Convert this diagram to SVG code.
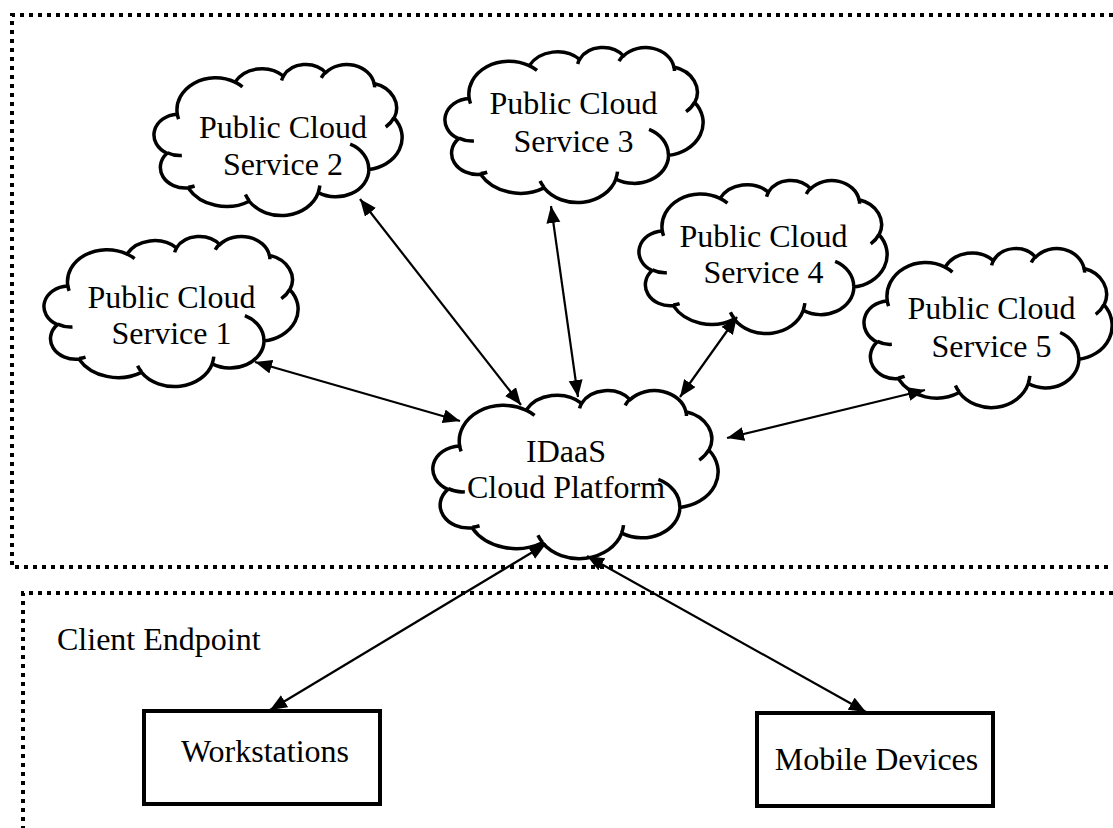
<svg xmlns="http://www.w3.org/2000/svg" xmlns:xlink="http://www.w3.org/1999/xlink" width="1113" height="828" viewBox="0 0 1113 828">
  <style>
    .lbl { font-family: "Liberation Serif", "Times New Roman", serif; font-size: 32px; fill: #000; }
    .mid { text-anchor: middle; }
    .cloud-outline { fill: #fff; stroke: #000; stroke-width: 3.5; vector-effect: non-scaling-stroke; stroke-linejoin: round; }
    .cloud-inner { fill: none; stroke: #000; stroke-width: 3.5; vector-effect: non-scaling-stroke; }
    .box { fill: #fff; stroke: #000; stroke-width: 4; }
    .zone { fill: none; stroke: #000; stroke-width: 4; stroke-dasharray: 4 5; }
    .conn { fill: none; stroke: #000; stroke-width: 2.2; marker-start: url(#ah); marker-end: url(#ah); }
  </style>
  <defs>
    <marker id="ah" markerUnits="userSpaceOnUse" markerWidth="18" markerHeight="15" refX="17" refY="7" orient="auto-start-reverse">
      <path d="M0,0 L17,7 L0,14 Z" fill="#000"/>
    </marker>
    <g id="cloud">
      <path class="cloud-outline" d="M 39.00 143.70 A 67.53 91.90 0 0 1 140.05 52.02 A 53.33 72.67 0 0 1 224.57 34.33 A 43.65 59.45 0 0 1 298.34 24.83 A 48.57 65.95 0 0 1 383.19 55.79 A 53.33 72.73 0 0 1 418.19 154.63 A 67.75 92.20 0 0 1 374.06 302.07 A 57.85 78.67 0 0 1 285.57 368.17 A 67.52 92.15 0 0 1 164.81 392.67 A 77.20 105.43 0 0 1 58.05 354.70 A 43.60 59.18 0 0 1 21.15 255.46 A 43.45 59.45 0 0 1 39.00 143.70 Z"/>
      <path class="cloud-inner" d="M 46.93 261.77 A 43.45 59.45 0 0 1 21.59 253.79 M 69.28 348.99 A 43.60 59.18 0 0 1 58.19 352.81 M 164.78 390.90 A 67.52 92.15 0 0 1 158.11 373.50 M 288.27 347.51 A 67.52 92.15 0 0 1 285.60 366.61 M 341.29 229.54 A 57.85 78.67 0 0 1 373.81 300.90 M 417.98 153.54 A 53.33 72.73 0 0 1 403.50 180.29 M 383.24 54.26 A 48.57 65.95 0 0 1 384.00 66.90 M 290.78 39.52 A 48.57 65.95 0 0 1 298.20 23.40 M 221.41 47.20 A 43.65 59.45 0 0 1 225.01 33.29 M 140.00 51.92 A 67.53 91.90 0 0 1 153.00 65.41 M 41.27 157.89 A 67.53 91.90 0 0 1 39.00 143.70"/>
    </g>
  </defs>
  <rect width="1113" height="828" fill="#fff"/>

  <g id="zones">
    <path class="zone" d="M 1113 15 H 12 V 567 H 1113"/>
    <path class="zone" d="M 1113 593 H 23 V 828"/>
  </g>

  <g id="cloud1">
    <use xlink:href="#cloud" transform="translate(45,236) scale(0.5856,0.3472)"/>
    <text class="lbl mid" x="171.5" y="308">Public Cloud</text>
    <text class="lbl mid" x="171.5" y="344">Service 1</text>
  </g>
  <g id="cloud2">
    <use xlink:href="#cloud" transform="translate(155,64) scale(0.5718,0.3495)"/>
    <text class="lbl mid" x="283" y="138">Public Cloud</text>
    <text class="lbl mid" x="283" y="175">Service 2</text>
  </g>
  <g id="cloud3">
    <use xlink:href="#cloud" transform="translate(446,47) scale(0.5949,0.3588)"/>
    <text class="lbl mid" x="573.5" y="114">Public Cloud</text>
    <text class="lbl mid" x="573.5" y="152">Service 3</text>
  </g>
  <g id="cloud4">
    <use xlink:href="#cloud" transform="translate(640,180) scale(0.5718,0.3542)"/>
    <text class="lbl mid" x="763.5" y="247">Public Cloud</text>
    <text class="lbl mid" x="763.5" y="283">Service 4</text>
  </g>
  <g id="cloud5">
    <use xlink:href="#cloud" transform="translate(865,248) scale(0.5718,0.3681)"/>
    <text class="lbl mid" x="991.5" y="319">Public Cloud</text>
    <text class="lbl mid" x="991.5" y="357">Service 5</text>
  </g>
  <g id="idaas">
    <use xlink:href="#cloud" transform="translate(434,390) scale(0.6574,0.3889)"/>
    <text class="lbl mid" x="566" y="462">IDaaS</text>
    <text class="lbl mid" x="566" y="498">Cloud Platform</text>
  </g>

  <g id="client-label">
    <text class="lbl" x="57" y="650">Client Endpoint</text>
  </g>
  <g id="workstations">
    <rect class="box" x="144" y="711" width="236" height="93"/>
    <text class="lbl mid" x="265" y="762">Workstations</text>
  </g>
  <g id="mobile">
    <rect class="box" x="757" y="713" width="236" height="93"/>
    <text class="lbl mid" x="876.5" y="770">Mobile Devices</text>
  </g>

  <g id="connectors">
    <line class="conn" x1="255" y1="362" x2="460" y2="421"/>
    <line class="conn" x1="360" y1="199" x2="521" y2="405"/>
    <line class="conn" x1="551" y1="206" x2="578" y2="397"/>
    <line class="conn" x1="737" y1="317" x2="680" y2="397"/>
    <line class="conn" x1="925" y1="390" x2="727" y2="438"/>
    <line class="conn" x1="546" y1="544" x2="270" y2="710"/>
    <line class="conn" x1="587" y1="556" x2="866" y2="712"/>
  </g>
</svg>
